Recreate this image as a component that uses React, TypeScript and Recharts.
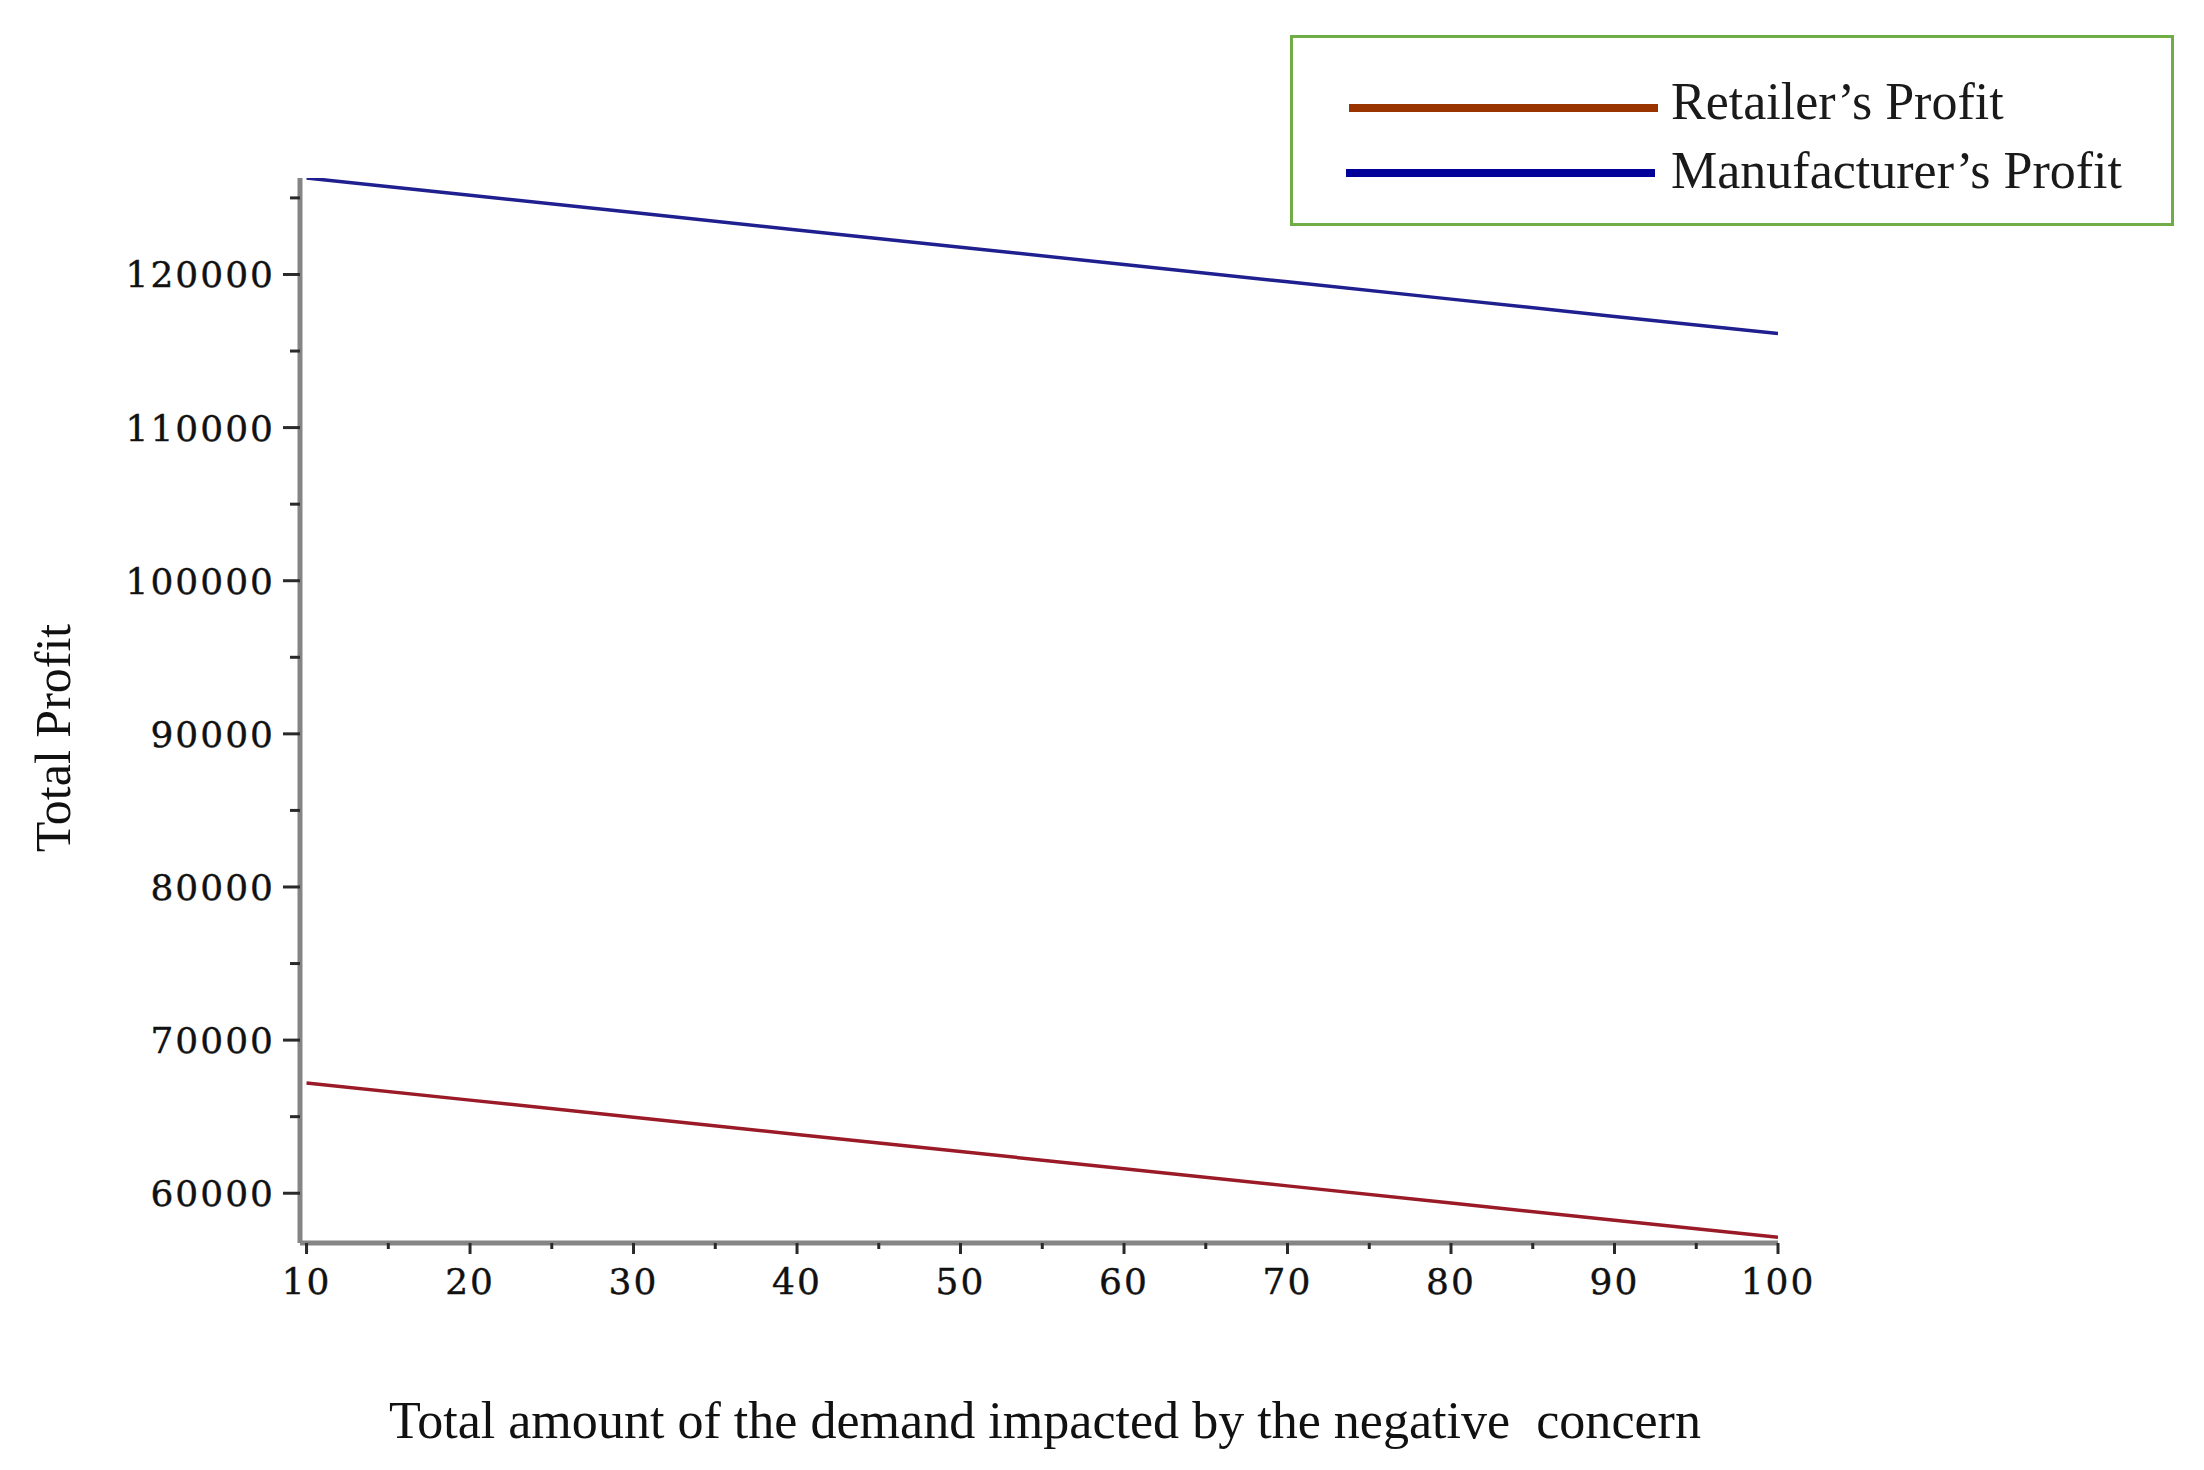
import { LineChart, Line, XAxis, YAxis, Legend } from "recharts"

const demand = [10, 20, 30, 40, 50, 60, 70, 80, 90, 100]
const retailerProfit = [67200, 66080, 64960, 63840, 62720, 61600, 60480, 59360, 58240, 57120]
const manufacturerProfit = [126300, 125170, 124040, 122910, 121780, 120650, 119520, 118390, 117260, 116150]

const xTicks = [10, 15, 20, 25, 30, 35, 40, 45, 50, 55, 60, 65, 70, 75, 80, 85, 90, 95, 100]
const yTicks = [60000, 65000, 70000, 75000, 80000, 85000, 90000, 95000, 100000, 105000, 110000, 115000, 120000, 125000]

const seriesNames = ["Retailer\u2019s Profit", "Manufacturer\u2019s Profit"]
const seriesColors = ["#9a1b27", "#1f1f8f"]
const legendColors = ["#993300", "#000099"]

const data = demand.map((d, i) => ({
  x: d,
  retailer: retailerProfit[i],
  manufacturer: manufacturerProfit[i],
}))

const tickFont = "'DejaVu Serif', serif"
const textFont = "'Liberation Serif', 'Times New Roman', serif"

function YTick(props: any) {
  const { x, y, payload } = props
  const major = payload.value % 10000 === 0
  return (
    <g>
      <line x1={x - (major ? 17 : 10)} x2={x} y1={y} y2={y} stroke="#2a2a2a" strokeWidth={3} />
      {major && (
        <text x={x - 25} y={y} dy="0.36em" textAnchor="end" fontFamily={tickFont} fontSize={36} letterSpacing={2} fill="#111" stroke="#111" strokeWidth={0.4}>
          {payload.value}
        </text>
      )}
    </g>
  )
}

function XTick(props: any) {
  const { x, y, payload } = props
  const major = payload.value % 10 === 0
  return (
    <g>
      <line x1={x} x2={x} y1={y} y2={y + (major ? 11 : 6)} stroke="#2a2a2a" strokeWidth={3} />
      {major && (
        <text x={x} y={y + 51} textAnchor="middle" fontFamily={tickFont} fontSize={36} letterSpacing={2} fill="#111" stroke="#111" strokeWidth={0.4}>
          {payload.value}
        </text>
      )}
    </g>
  )
}

function LegendBox() {
  return (
    <div style={{ width: 884, height: 191, border: "3px solid #70ad47", boxSizing: "border-box", background: "#fff" }}>
      <svg width={878} height={185}>
        {seriesNames.map((name, i) => (
          <g key={name}>
            <line x1={56 - i * 3} x2={365 - i * 3} y1={70 + i * 65} y2={70 + i * 65} stroke={legendColors[i]} strokeWidth={8} />
            <text x={378} y={81 + i * 69} fontFamily={textFont} fontSize={52} fill="#1a1a1a">
              {name}
            </text>
          </g>
        ))}
      </svg>
    </div>
  )
}

export default function App() {
  return (
    <div style={{ position: "absolute", left: 0, top: 0, width: 2204, height: 1470, background: "#fff" }}>
      <LineChart width={2204} height={1470} data={data} margin={{ top: 178, right: 426, left: 0, bottom: 0 }}>
        <XAxis
          dataKey="x"
          type="number"
          domain={[9.6, 100]}
          allowDataOverflow
          ticks={xTicks}
          interval={0}
          height={227}
          tickSize={0}
          tickMargin={0}
          tickLine={false}
          tick={<XTick />}
          axisLine={{ stroke: "#858585", strokeWidth: 5 }}
          label={{
            content: () => (
              <text x={1045} y={1438} textAnchor="middle" fontFamily={textFont} fontSize={52} fill="#111" textLength={1312} lengthAdjust="spacingAndGlyphs" style={{ whiteSpace: "pre" }}>
                {"Total amount of the demand impacted by the negative  concern"}
              </text>
            ),
          }}
        />
        <YAxis
          type="number"
          domain={[56750, 126300]}
          allowDataOverflow
          ticks={yTicks}
          interval={0}
          width={300}
          tickSize={0}
          tickMargin={0}
          tickLine={false}
          tick={<YTick />}
          axisLine={{ stroke: "#858585", strokeWidth: 5 }}
          label={{
            content: () => (
              <text x={52} y={738} transform="rotate(-90 52 738)" dy="0.35em" textAnchor="middle" fontFamily={textFont} fontSize={50} fill="#111">
                Total Profit
              </text>
            ),
          }}
        />
        <Legend
          layout="horizontal"
          verticalAlign="middle"
          align="center"
          content={() => <LegendBox />}
          wrapperStyle={{ left: 1290, top: 35, width: 884, height: 191 }}
        />
        <Line dataKey="retailer" name={seriesNames[0]} stroke={seriesColors[0]} strokeWidth={3.5} dot={false} isAnimationActive={false} />
        <Line dataKey="manufacturer" name={seriesNames[1]} stroke={seriesColors[1]} strokeWidth={3.5} dot={false} isAnimationActive={false} />
      </LineChart>
    </div>
  )
}
